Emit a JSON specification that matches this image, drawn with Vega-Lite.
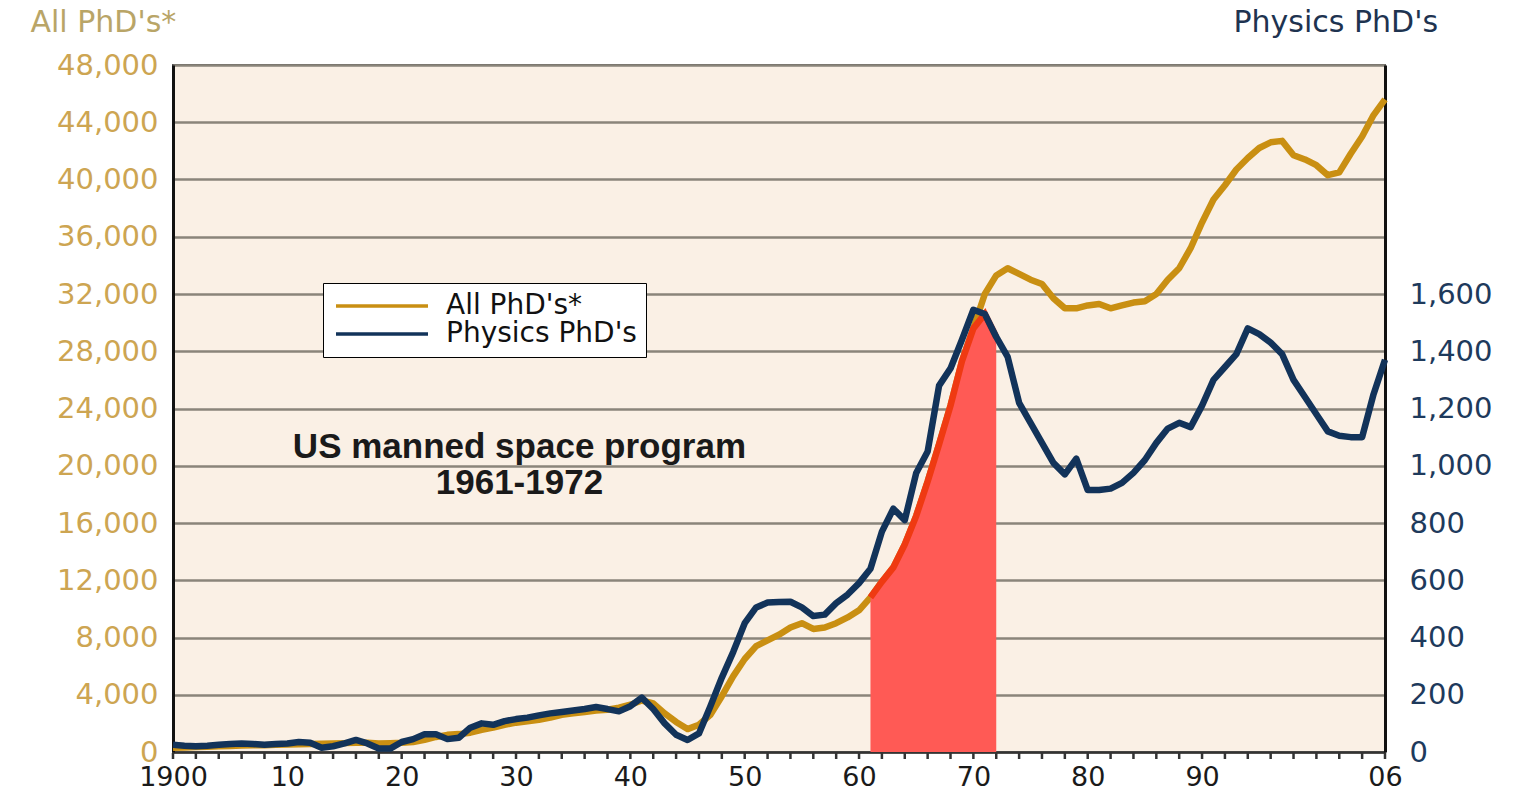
{
  "$schema": "https://vega.github.io/schema/vega-lite/v6.json",
  "autosize": {"type": "none"},
  "width": 1212,
  "height": 687,
  "padding": {"left": 173, "top": 65, "right": 137, "bottom": 41},
  "background": "#ffffff",
  "config": {
    "view": {"fill": "#faf0e5", "stroke": "#555555", "strokeWidth": 2},
    "font": "DejaVu Sans",
    "legend": {
      "orient": "none",
      "legendX": 150,
      "legendY": 218,
      "fillColor": "#ffffff",
      "strokeColor": "#000000",
      "padding": 9,
      "rowPadding": 0,
      "labelFont": "DejaVu Sans",
      "labelFontSize": 28,
      "labelColor": "#111111",
      "labelLimit": 600,
      "symbolType": "M-4.6,0H4.6",
      "symbolSize": 400,
      "symbolStrokeWidth": 3.5,
      "labelOffset": 50,
      "symbolOffset": 36,
      "title": null
    }
  },
  "datasets": {
    "phd": [
      {"year": 1900, "all": 300, "physics": 25},
      {"year": 1901, "all": 320, "physics": 22},
      {"year": 1902, "all": 350, "physics": 20},
      {"year": 1903, "all": 370, "physics": 22},
      {"year": 1904, "all": 400, "physics": 25},
      {"year": 1905, "all": 420, "physics": 28},
      {"year": 1906, "all": 450, "physics": 30},
      {"year": 1907, "all": 470, "physics": 28},
      {"year": 1908, "all": 480, "physics": 25},
      {"year": 1909, "all": 500, "physics": 28},
      {"year": 1910, "all": 520, "physics": 30},
      {"year": 1911, "all": 540, "physics": 35},
      {"year": 1912, "all": 560, "physics": 32},
      {"year": 1913, "all": 580, "physics": 15},
      {"year": 1914, "all": 600, "physics": 20},
      {"year": 1915, "all": 620, "physics": 30},
      {"year": 1916, "all": 650, "physics": 42},
      {"year": 1917, "all": 640, "physics": 30},
      {"year": 1918, "all": 600, "physics": 12},
      {"year": 1919, "all": 620, "physics": 12},
      {"year": 1920, "all": 650, "physics": 35},
      {"year": 1921, "all": 700, "physics": 45},
      {"year": 1922, "all": 850, "physics": 62},
      {"year": 1923, "all": 1050, "physics": 62},
      {"year": 1924, "all": 1200, "physics": 45},
      {"year": 1925, "all": 1250, "physics": 50},
      {"year": 1926, "all": 1350, "physics": 85},
      {"year": 1927, "all": 1550, "physics": 100},
      {"year": 1928, "all": 1700, "physics": 95},
      {"year": 1929, "all": 1900, "physics": 108},
      {"year": 1930, "all": 2050, "physics": 115},
      {"year": 1931, "all": 2150, "physics": 120},
      {"year": 1932, "all": 2250, "physics": 128},
      {"year": 1933, "all": 2400, "physics": 135},
      {"year": 1934, "all": 2600, "physics": 140},
      {"year": 1935, "all": 2700, "physics": 145},
      {"year": 1936, "all": 2800, "physics": 150},
      {"year": 1937, "all": 2900, "physics": 157},
      {"year": 1938, "all": 2950, "physics": 150},
      {"year": 1939, "all": 3100, "physics": 142},
      {"year": 1940, "all": 3300, "physics": 160},
      {"year": 1941, "all": 3600, "physics": 190},
      {"year": 1942, "all": 3400, "physics": 150},
      {"year": 1943, "all": 2700, "physics": 100},
      {"year": 1944, "all": 2100, "physics": 60},
      {"year": 1945, "all": 1600, "physics": 42},
      {"year": 1946, "all": 1900, "physics": 65},
      {"year": 1947, "all": 2600, "physics": 160},
      {"year": 1948, "all": 3900, "physics": 260},
      {"year": 1949, "all": 5300, "physics": 350},
      {"year": 1950, "all": 6500, "physics": 450},
      {"year": 1951, "all": 7400, "physics": 505},
      {"year": 1952, "all": 7800, "physics": 522},
      {"year": 1953, "all": 8200, "physics": 524},
      {"year": 1954, "all": 8700, "physics": 525},
      {"year": 1955, "all": 9000, "physics": 505},
      {"year": 1956, "all": 8600, "physics": 475},
      {"year": 1957, "all": 8700, "physics": 480},
      {"year": 1958, "all": 9000, "physics": 520},
      {"year": 1959, "all": 9400, "physics": 550},
      {"year": 1960, "all": 9900, "physics": 590},
      {"year": 1961, "all": 10800, "physics": 640},
      {"year": 1962, "all": 11900, "physics": 770},
      {"year": 1963, "all": 12900, "physics": 850},
      {"year": 1964, "all": 14500, "physics": 810},
      {"year": 1965, "all": 16500, "physics": 975},
      {"year": 1966, "all": 18900, "physics": 1050},
      {"year": 1967, "all": 21500, "physics": 1280},
      {"year": 1968, "all": 24200, "physics": 1340},
      {"year": 1969, "all": 27300, "physics": 1440},
      {"year": 1970, "all": 29600, "physics": 1545},
      {"year": 1971, "all": 32000, "physics": 1530},
      {"year": 1972, "all": 33300, "physics": 1450},
      {"year": 1973, "all": 33800, "physics": 1380},
      {"year": 1974, "all": 33400, "physics": 1220},
      {"year": 1975, "all": 33000, "physics": 1150},
      {"year": 1976, "all": 32700, "physics": 1080},
      {"year": 1977, "all": 31700, "physics": 1010},
      {"year": 1978, "all": 31000, "physics": 970},
      {"year": 1979, "all": 31000, "physics": 1025},
      {"year": 1980, "all": 31200, "physics": 915},
      {"year": 1981, "all": 31300, "physics": 915},
      {"year": 1982, "all": 31000, "physics": 920},
      {"year": 1983, "all": 31200, "physics": 940},
      {"year": 1984, "all": 31400, "physics": 975},
      {"year": 1985, "all": 31500, "physics": 1020},
      {"year": 1986, "all": 32000, "physics": 1080},
      {"year": 1987, "all": 33000, "physics": 1130},
      {"year": 1988, "all": 33800, "physics": 1150},
      {"year": 1989, "all": 35200, "physics": 1135},
      {"year": 1990, "all": 37000, "physics": 1210},
      {"year": 1991, "all": 38600, "physics": 1300},
      {"year": 1992, "all": 39600, "physics": 1345},
      {"year": 1993, "all": 40700, "physics": 1390},
      {"year": 1994, "all": 41500, "physics": 1480},
      {"year": 1995, "all": 42200, "physics": 1460},
      {"year": 1996, "all": 42600, "physics": 1430},
      {"year": 1997, "all": 42700, "physics": 1390},
      {"year": 1998, "all": 41700, "physics": 1300},
      {"year": 1999, "all": 41400, "physics": 1240},
      {"year": 2000, "all": 41000, "physics": 1180},
      {"year": 2001, "all": 40300, "physics": 1120},
      {"year": 2002, "all": 40500, "physics": 1105},
      {"year": 2003, "all": 41800, "physics": 1100},
      {"year": 2004, "all": 43000, "physics": 1100},
      {"year": 2005, "all": 44500, "physics": 1250},
      {"year": 2006, "all": 45600, "physics": 1370}
    ],
    "space": [
      {"year": 1961, "top": 10800},
      {"year": 1962, "top": 11900},
      {"year": 1963, "top": 12900},
      {"year": 1964, "top": 14500},
      {"year": 1965, "top": 16500},
      {"year": 1966, "top": 18900},
      {"year": 1967, "top": 21500},
      {"year": 1968, "top": 24200},
      {"year": 1969, "top": 27300},
      {"year": 1970, "top": 29600},
      {"year": 1971, "top": 30600},
      {"year": 1972, "top": 29000}
    ],
    "notes": [
      {"year": 1930.3, "value": 21300, "label": "US manned space program"},
      {"year": 1930.3, "value": 18800, "label": "1961-1972"}
    ],
    "ticks": [
      {"year": 1900}, {"year": 1902}, {"year": 1904}, {"year": 1906}, {"year": 1908},
      {"year": 1910}, {"year": 1912}, {"year": 1914}, {"year": 1916}, {"year": 1918},
      {"year": 1920}, {"year": 1922}, {"year": 1924}, {"year": 1926}, {"year": 1928},
      {"year": 1930}, {"year": 1932}, {"year": 1934}, {"year": 1936}, {"year": 1938},
      {"year": 1940}, {"year": 1942}, {"year": 1944}, {"year": 1946}, {"year": 1948},
      {"year": 1950}, {"year": 1952}, {"year": 1954}, {"year": 1956}, {"year": 1958},
      {"year": 1960}, {"year": 1962}, {"year": 1964}, {"year": 1966}, {"year": 1968},
      {"year": 1970}, {"year": 1972}, {"year": 1974}, {"year": 1976}, {"year": 1978},
      {"year": 1980}, {"year": 1982}, {"year": 1984}, {"year": 1986}, {"year": 1988},
      {"year": 1990}, {"year": 1992}, {"year": 1994}, {"year": 1996}, {"year": 1998},
      {"year": 2000}, {"year": 2002}, {"year": 2004}, {"year": 2006}
    ]
  },
  "layer": [
    {
      "layer": [
        {
          "data": {"name": "phd"},
          "mark": {"type": "line", "strokeWidth": 6.5, "strokeJoin": "round"},
          "encoding": {
            "x": {
              "field": "year", "type": "quantitative",
              "scale": {"domain": [1900, 2006], "nice": false, "zero": false},
              "axis": {
                "orient": "bottom",
                "title": null,
                "grid": false,
                "values": [1900,1910,1920,1930,1940,1950,1960,1970,1980,1990,2006],
                "labelExpr": "datum.value == 1900 ? '1900' : datum.value == 2006 ? '06' : toString(datum.value - 1900)",
                "labelFont": "DejaVu Sans",
                "labelFontSize": 27,
                "labelColor": "#1a1a1a",
                "labelPadding": 12,
                "labelOverlap": false,
                "labelFlush": false,
                "labelBound": false,
                "ticks": false,
                "domainColor": "#333333",
                "domainWidth": 2.5
              }
            },
            "y": {
              "field": "all", "type": "quantitative",
              "scale": {"domain": [0, 48000], "nice": false},
              "axis": {
                "title": "All PhD's*",
                "titleAngle": 0,
                "titleAlign": "left",
                "titleBaseline": "middle",
                "titleX": -143,
                "titleY": -43,
                "titleFont": "DejaVu Sans",
                "titleFontSize": 30,
                "titleFontWeight": "normal",
                "titleColor": "#b9a567",
                "values": [0,4000,8000,12000,16000,20000,24000,28000,32000,36000,40000,44000,48000],
                "format": ",d",
                "grid": true,
                "gridColor": "#8a857a",
                "gridWidth": 2.5,
                "ticks": false,
                "labelFont": "DejaVu Sans",
                "labelFontSize": 29,
                "labelColor": "#cda552",
                "labelPadding": 15,
                "domainColor": "#111111",
                "domainWidth": 3
              }
            },
            "color": {
              "datum": "All PhD's*",
              "type": "nominal",
              "scale": {"domain": ["All PhD's*", "Physics PhD's"], "range": ["#c98f12", "#12335a"]},
              "legend": {"title": null}
            }
          }
        },
        {
          "data": {"name": "space"},
          "mark": {"type": "area", "color": "#ff5a55", "opacity": 1, "line": {"color": "#ef3a12", "strokeWidth": 6.5}},
          "encoding": {
            "x": {"field": "year", "type": "quantitative", "scale": {"domain": [1900, 2006], "nice": false, "zero": false}},
            "y": {"field": "top", "type": "quantitative", "scale": {"domain": [0, 48000], "nice": false}}
          }
        },
        {
          "data": {"name": "notes"},
          "mark": {"type": "text", "font": "Liberation Sans", "fontWeight": "bold", "fontSize": 35, "color": "#1a1a1a", "align": "center", "baseline": "middle"},
          "encoding": {
            "x": {"field": "year", "type": "quantitative", "scale": {"domain": [1900, 2006], "nice": false, "zero": false}},
            "y": {"field": "value", "type": "quantitative", "scale": {"domain": [0, 48000], "nice": false}},
            "text": {"field": "label"}
          }
        },
        {
          "data": {"name": "ticks"},
          "mark": {"type": "tick", "orient": "vertical", "size": 6, "thickness": 2.5, "color": "#333333", "opacity": 1, "yOffset": 4},
          "encoding": {
            "x": {"field": "year", "type": "quantitative", "scale": {"domain": [1900, 2006], "nice": false, "zero": false}},
            "y": {"datum": 0, "type": "quantitative", "scale": {"domain": [0, 48000], "nice": false}}
          }
        }
      ]
    },
    {
      "data": {"name": "phd"},
      "mark": {"type": "line", "strokeWidth": 6.5, "strokeJoin": "round"},
      "encoding": {
        "x": {"field": "year", "type": "quantitative", "scale": {"domain": [1900, 2006], "nice": false, "zero": false}},
        "y": {
          "field": "physics", "type": "quantitative",
          "scale": {"domain": [0, 2400], "nice": false},
          "axis": {
            "orient": "right",
            "title": "Physics PhD's",
            "titleAngle": 0,
            "titleAlign": "left",
            "titleBaseline": "middle",
            "titleX": -152,
            "titleY": -43,
            "titleFont": "DejaVu Sans",
            "titleFontSize": 30,
            "titleFontWeight": "normal",
            "titleColor": "#1e3350",
            "values": [0,200,400,600,800,1000,1200,1400,1600],
            "format": ",d",
            "grid": false,
            "ticks": false,
            "labelFont": "DejaVu Sans",
            "labelFontSize": 29,
            "labelColor": "#1e3a5c",
            "labelPadding": 24,
            "domainColor": "#111111",
            "domainWidth": 3
          }
        },
        "color": {
          "datum": "Physics PhD's",
          "type": "nominal",
          "scale": {"domain": ["All PhD's*", "Physics PhD's"], "range": ["#c98f12", "#12335a"]},
          "legend": {"title": null}
        }
      }
    }
  ],
  "resolve": {"scale": {"y": "independent"}}
}
